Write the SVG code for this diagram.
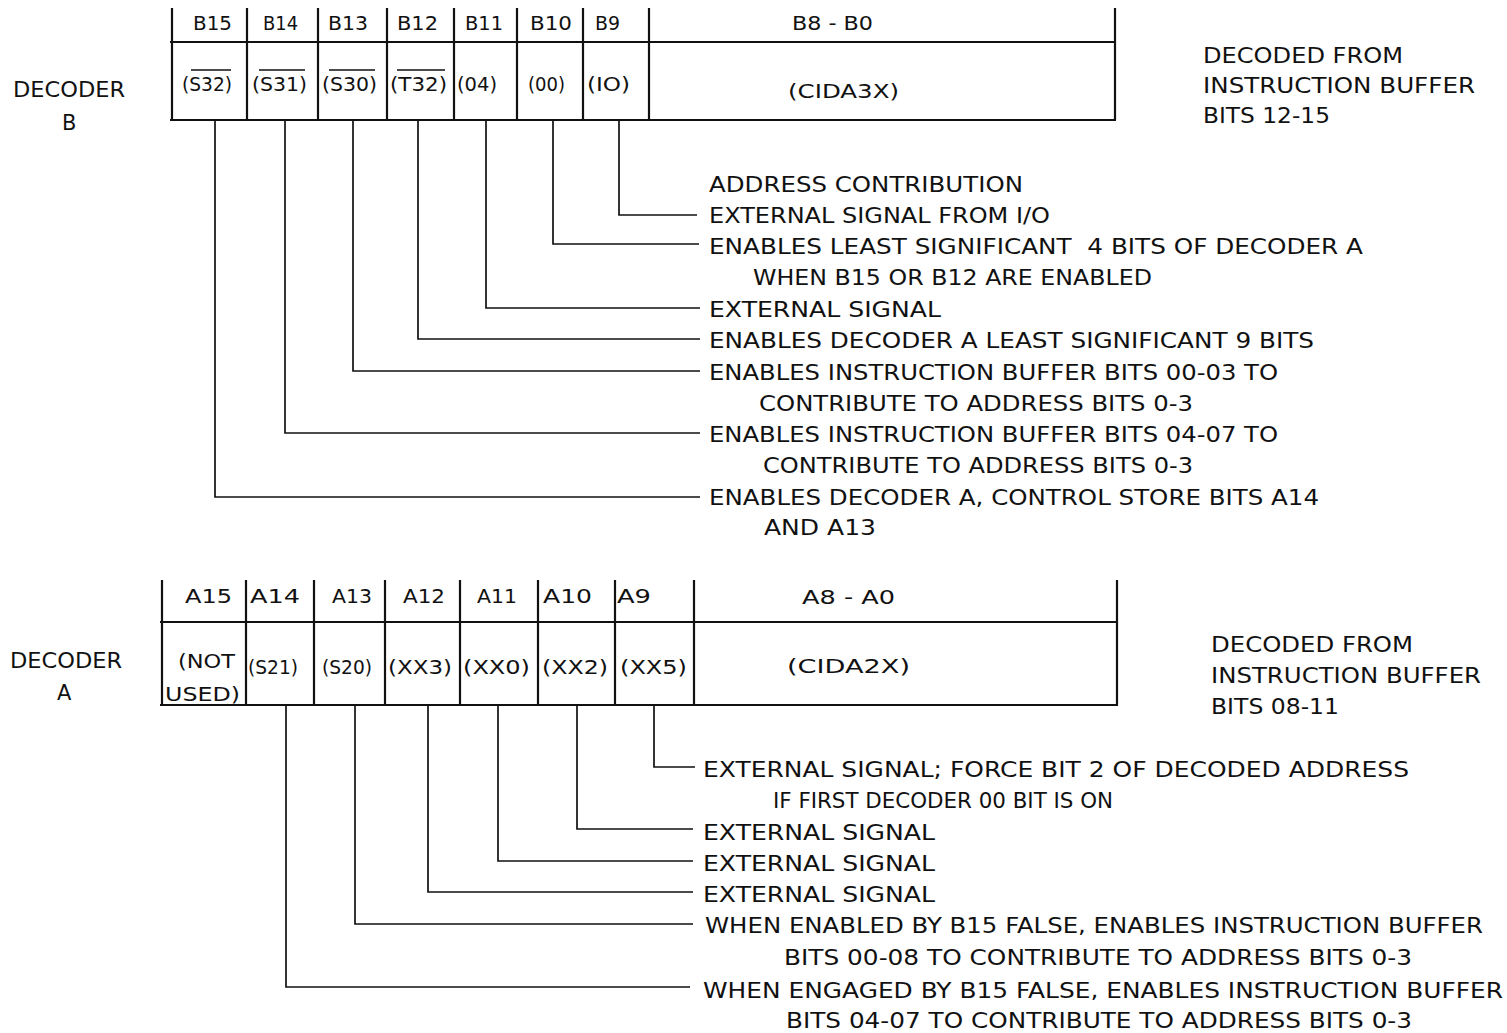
<svg xmlns="http://www.w3.org/2000/svg" width="1507" height="1033" viewBox="0 0 1507 1033">
<style>
text{font-family:"DejaVu Sans","Liberation Sans",sans-serif;fill:#111;white-space:pre}
.d{font-size:21px}
.r{font-size:20px}
.box{fill:none;stroke:#111;stroke-width:2.2}
.ov{stroke:#111;stroke-width:1.6}
.c{fill:none;stroke:#111;stroke-width:1.7}
</style>
<rect width="1507" height="1033" fill="#fff"/>

<g id="decoder-b-label">
<text class="d" x="13" y="97" textLength="112" lengthAdjust="spacingAndGlyphs">DECODER</text>
<text class="d" x="62" y="130">B</text>
</g>
<g id="decoder-b-source">
<text class="d" x="1203" y="63" textLength="200" lengthAdjust="spacingAndGlyphs">DECODED FROM</text>
<text class="d" x="1203" y="93" textLength="272" lengthAdjust="spacingAndGlyphs">INSTRUCTION BUFFER</text>
<text class="d" x="1203" y="123" textLength="127" lengthAdjust="spacingAndGlyphs">BITS 12-15</text>
</g>

<g id="register-b">
<path class="box" d="M172,8 V120 M1115,8 V120 M170,42 H1116 M170,120 H1116 M247,8 V120 M318,8 V120 M387,8 V120 M454,8 V120 M517,8 V120 M583,8 V120 M649,8 V120"/>
<text class="r" x="193" y="30" textLength="39" lengthAdjust="spacingAndGlyphs">B15</text>
<text class="r" x="263" y="30" textLength="35" lengthAdjust="spacingAndGlyphs">B14</text>
<text class="r" x="328" y="30" textLength="40" lengthAdjust="spacingAndGlyphs">B13</text>
<text class="r" x="397" y="30" textLength="41" lengthAdjust="spacingAndGlyphs">B12</text>
<text class="r" x="465" y="30" textLength="38" lengthAdjust="spacingAndGlyphs">B11</text>
<text class="r" x="530" y="30" textLength="42" lengthAdjust="spacingAndGlyphs">B10</text>
<text class="r" x="595" y="30" textLength="25" lengthAdjust="spacingAndGlyphs">B9</text>
<text class="r" x="792" y="30" textLength="81" lengthAdjust="spacingAndGlyphs">B8 - B0</text>
<text class="r" x="182" y="91" textLength="50" lengthAdjust="spacingAndGlyphs">(S32)</text>
<text class="r" x="252" y="91" textLength="55" lengthAdjust="spacingAndGlyphs">(S31)</text>
<text class="r" x="322" y="91" textLength="55" lengthAdjust="spacingAndGlyphs">(S30)</text>
<text class="r" x="390" y="91" textLength="57" lengthAdjust="spacingAndGlyphs">(T32)</text>
<text class="r" x="457" y="91" textLength="40" lengthAdjust="spacingAndGlyphs">(04)</text>
<text class="r" x="528" y="91" textLength="37" lengthAdjust="spacingAndGlyphs">(00)</text>
<text class="r" x="587" y="91" textLength="43" lengthAdjust="spacingAndGlyphs">(IO)</text>
<text class="r" x="788" y="98" textLength="111" lengthAdjust="spacingAndGlyphs">(CIDA3X)</text>
<path class="ov" d="M191,70 H231 M259,70 H305 M329,70 H375 M397,70 H445"/>
</g>

<g id="descriptions-b">
<text class="d" x="709" y="192" textLength="314" lengthAdjust="spacingAndGlyphs">ADDRESS CONTRIBUTION</text>
<text class="d" x="709" y="223" textLength="341" lengthAdjust="spacingAndGlyphs">EXTERNAL SIGNAL FROM I/O</text>
<text class="d" x="709" y="254" textLength="654" lengthAdjust="spacingAndGlyphs">ENABLES LEAST SIGNIFICANT  4 BITS OF DECODER A</text>
<text class="d" x="753" y="285" textLength="399" lengthAdjust="spacingAndGlyphs">WHEN B15 OR B12 ARE ENABLED</text>
<text class="d" x="709" y="317" textLength="232" lengthAdjust="spacingAndGlyphs">EXTERNAL SIGNAL</text>
<text class="d" x="709" y="348" textLength="605" lengthAdjust="spacingAndGlyphs">ENABLES DECODER A LEAST SIGNIFICANT 9 BITS</text>
<text class="d" x="709" y="380" textLength="569" lengthAdjust="spacingAndGlyphs">ENABLES INSTRUCTION BUFFER BITS 00-03 TO</text>
<text class="d" x="759" y="411" textLength="434" lengthAdjust="spacingAndGlyphs">CONTRIBUTE TO ADDRESS BITS 0-3</text>
<text class="d" x="709" y="442" textLength="569" lengthAdjust="spacingAndGlyphs">ENABLES INSTRUCTION BUFFER BITS 04-07 TO</text>
<text class="d" x="763" y="473" textLength="430" lengthAdjust="spacingAndGlyphs">CONTRIBUTE TO ADDRESS BITS 0-3</text>
<text class="d" x="709" y="505" textLength="610" lengthAdjust="spacingAndGlyphs">ENABLES DECODER A, CONTROL STORE BITS A14</text>
<text class="d" x="764" y="535" textLength="112" lengthAdjust="spacingAndGlyphs">AND A13</text>
</g>

<g id="decoder-a-label">
<text class="d" x="10" y="668" textLength="112" lengthAdjust="spacingAndGlyphs">DECODER</text>
<text class="d" x="57" y="700">A</text>
</g>
<g id="decoder-a-source">
<text class="d" x="1211" y="652" textLength="202" lengthAdjust="spacingAndGlyphs">DECODED FROM</text>
<text class="d" x="1211" y="683" textLength="270" lengthAdjust="spacingAndGlyphs">INSTRUCTION BUFFER</text>
<text class="d" x="1211" y="714" textLength="128" lengthAdjust="spacingAndGlyphs">BITS 08-11</text>
</g>

<g id="register-a">
<path class="box" d="M162,580 V705 M1117,580 V705 M160,622 H1118 M160,705 H1118 M246,580 V705 M314,580 V705 M385,580 V705 M460,580 V705 M538,580 V705 M615,580 V705 M694,580 V705"/>
<text class="r" x="185" y="603" textLength="47" lengthAdjust="spacingAndGlyphs">A15</text>
<text class="r" x="250" y="603" textLength="50" lengthAdjust="spacingAndGlyphs">A14</text>
<text class="r" x="332" y="603" textLength="40" lengthAdjust="spacingAndGlyphs">A13</text>
<text class="r" x="403" y="603" textLength="42" lengthAdjust="spacingAndGlyphs">A12</text>
<text class="r" x="477" y="603" textLength="40" lengthAdjust="spacingAndGlyphs">A11</text>
<text class="r" x="543" y="603" textLength="49" lengthAdjust="spacingAndGlyphs">A10</text>
<text class="r" x="617" y="603" textLength="34" lengthAdjust="spacingAndGlyphs">A9</text>
<text class="r" x="802" y="604" textLength="93" lengthAdjust="spacingAndGlyphs">A8 - A0</text>
<text class="r" x="178" y="668" textLength="57" lengthAdjust="spacingAndGlyphs">(NOT</text>
<text class="r" x="165" y="701" textLength="75" lengthAdjust="spacingAndGlyphs">USED)</text>
<text class="r" x="248" y="674" textLength="50" lengthAdjust="spacingAndGlyphs">(S21)</text>
<text class="r" x="322" y="674" textLength="50" lengthAdjust="spacingAndGlyphs">(S20)</text>
<text class="r" x="388" y="674" textLength="64" lengthAdjust="spacingAndGlyphs">(XX3)</text>
<text class="r" x="463" y="674" textLength="67" lengthAdjust="spacingAndGlyphs">(XX0)</text>
<text class="r" x="542" y="674" textLength="66" lengthAdjust="spacingAndGlyphs">(XX2)</text>
<text class="r" x="620" y="674" textLength="67" lengthAdjust="spacingAndGlyphs">(XX5)</text>
<text class="r" x="787" y="673" textLength="123" lengthAdjust="spacingAndGlyphs">(CIDA2X)</text>
</g>

<g id="descriptions-a">
<text class="d" x="703" y="777" textLength="706" lengthAdjust="spacingAndGlyphs">EXTERNAL SIGNAL; FORCE BIT 2 OF DECODED ADDRESS</text>
<text class="d" x="773" y="808" textLength="340" lengthAdjust="spacingAndGlyphs">IF FIRST DECODER 00 BIT IS ON</text>
<text class="d" x="703" y="840" textLength="232" lengthAdjust="spacingAndGlyphs">EXTERNAL SIGNAL</text>
<text class="d" x="703" y="871" textLength="232" lengthAdjust="spacingAndGlyphs">EXTERNAL SIGNAL</text>
<text class="d" x="703" y="902" textLength="232" lengthAdjust="spacingAndGlyphs">EXTERNAL SIGNAL</text>
<text class="d" x="705" y="933" textLength="778" lengthAdjust="spacingAndGlyphs">WHEN ENABLED BY B15 FALSE, ENABLES INSTRUCTION BUFFER</text>
<text class="d" x="784" y="965" textLength="628" lengthAdjust="spacingAndGlyphs">BITS 00-08 TO CONTRIBUTE TO ADDRESS BITS 0-3</text>
<text class="d" x="703" y="998" textLength="800" lengthAdjust="spacingAndGlyphs">WHEN ENGAGED BY B15 FALSE, ENABLES INSTRUCTION BUFFER</text>
<text class="d" x="786" y="1028" textLength="626" lengthAdjust="spacingAndGlyphs">BITS 04-07 TO CONTRIBUTE TO ADDRESS BITS 0-3</text>
</g>

<g id="connectors">
<path class="c" d="M619,120 V215 H697"/>
<path class="c" d="M553,120 V244 H699"/>
<path class="c" d="M486,120 V308 H700"/>
<path class="c" d="M418,120 V339 H700"/>
<path class="c" d="M353,120 V371 H700"/>
<path class="c" d="M285,120 V433 H700"/>
<path class="c" d="M215,120 V497 H700"/>
<path class="c" d="M654,705 V767 H695"/>
<path class="c" d="M577,705 V829 H693"/>
<path class="c" d="M498,705 V861 H693"/>
<path class="c" d="M428,705 V892 H693"/>
<path class="c" d="M355,705 V924 H693"/>
<path class="c" d="M286,705 V987 H690"/>
</g>
</svg>
